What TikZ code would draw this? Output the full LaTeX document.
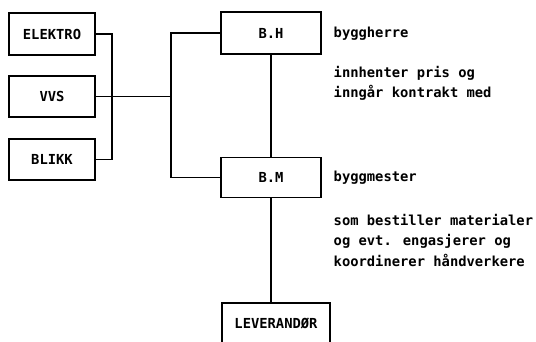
\documentclass[tikz,border=0pt]{standalone}
\usepackage{fontspec}
\newfontfamily\monofont{DejaVu Sans Mono}
\begin{document}
\begin{tikzpicture}[x=1pt,y=-1pt,
  line width=1.4pt,
  box/.style={draw, rectangle, minimum width=86pt, minimum height=42pt, inner sep=0pt, font=\monofont\bfseries\fontsize{13.8}{16}\selectfont},
  desc/.style={anchor=west, align=left, inner sep=0pt, font=\monofont\bfseries\fontsize{13.8}{20.5}\selectfont}]
\useasboundingbox (0,0) rectangle (536,341);
\node[box] (elektro) at (52,34) {ELEKTRO};
\node[box, minimum height=41pt] (vvs) at (52,96.5) {VVS};
\node[box, minimum height=41pt] (blikk) at (52,159.5) {BLIKK};
\node[box, minimum width=100pt] (bh) at (271,33) {B.H};
\node[box, minimum width=100pt, minimum height=40pt] (bm) at (271,177.5) {B.M};
\node[box, minimum width=108pt, minimum height=40pt] (lev) at (276,323) {LEVERANDØR};
\coordinate (bus) at (112,34);
\coordinate (j) at (171,96.5);
\draw (elektro.east) -- (bus) |- (blikk.east);
\draw (vvs.east) -- (j);
\draw (bh.west) -| (j) |- (bm.west);
\draw (bh.south) -- (bm.north);
\draw (bm.south) -- (bm.south |- lev.north);
\node[desc] (t1) at (333,34) {byggherre};
\node[desc] (t2) at (333,83.5) {innhenter pris og\\inngår kontrakt med};
\node[desc] (t3) at (333,178) {byggmester};
\node[desc] (t4) at (333,240) {som bestiller materialer\\og evt. engasjerer og\\koordinerer håndverkere};
\end{tikzpicture}
\end{document}
